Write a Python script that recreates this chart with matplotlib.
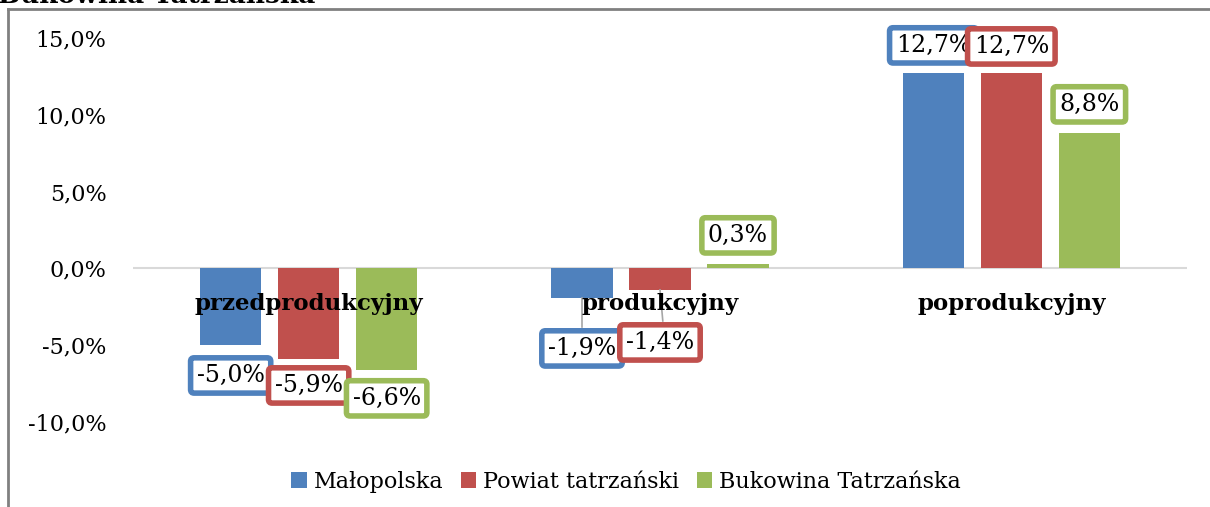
import numpy as np
from matplotlib import pyplot as plt
from matplotlib.patches import Patch
from matplotlib.lines import Line2D
from matplotlib import rcParams

rcParams["font.family"] = "DejaVu Serif"

# data
categories = ["przedprodukcyjny", "produkcyjny", "poprodukcyjny"]
series = ["Małopolska", "Powiat tatrzański", "Bukowina Tatrzańska"]
values = [
    [-5.0, -1.9, 12.7],   # Małopolska
    [-5.9, -1.4, 12.7],   # Powiat tatrzański
    [-6.6, 0.3, 8.8],     # Bukowina Tatrzańska
]
yticks = [-10, -5, 0, 5, 10, 15]

colors = ["#4F81BD", "#C0504D", "#9BBB59"]

# label placement: distance of label centre from bar end (in %), per series / category
label_dy = [
    [-1.97, -3.31, 1.82],
    [-1.72, -3.42, 1.75],
    [-1.86, 1.85, 1.88],
]
leader = [
    [False, True, False],
    [False, True, False],
    [False, False, False],
]


def fmt(v):
    return ("%.1f%%" % v).replace(".", ",")


fig = plt.figure(figsize=(12.1, 5.07), dpi=100)
W, H = 1210, 507
ax = fig.add_axes([133 / W, 1 - 422 / H, (1187 - 133) / W, (422 - 38) / H])

n = len(series)
bar_w = 0.174
step = 0.222
x = np.arange(len(categories))

for s in range(n):
    xs = x + (s - 1) * step
    ax.bar(xs, values[s], width=bar_w, color=colors[s], zorder=2)
    for c in range(len(categories)):
        v = values[s][c]
        ly = v + label_dy[s][c]
        if leader[s][c]:
            ax.plot([xs[c], xs[c] + 0.008 * s], [v, ly + 1.4], color="#A6A6A6",
                    lw=1.2, zorder=3)
        ax.text(xs[c], ly, fmt(v), ha="center", va="center", fontsize=17, zorder=5,
                bbox=dict(boxstyle="round,pad=0.26,rounding_size=0.15", fc="white",
                          ec=colors[s], lw=4))

ax.axhline(0, color="#D9D9D9", lw=1.5, zorder=1)
ax.set_xlim(-0.5, len(categories) - 0.5)
ax.set_ylim(-10, 15)
ax.set_yticks(yticks)
ax.set_yticklabels([fmt(t) for t in yticks], fontsize=16)
ax.tick_params(axis="y", length=0, pad=19)
ax.set_xticks([])
for sp in ax.spines.values():
    sp.set_visible(False)

# category labels just below the zero line
for c, name in enumerate(categories):
    ax.text(c, -2.35, name, ha="center", va="center", fontsize=16.5, fontweight="bold",
            zorder=4)

# legend
handles = [Patch(facecolor=colors[s], edgecolor="none", label=series[s]) for s in range(n)]
fig.legend(handles=handles, loc="center", bbox_to_anchor=(626 / W, 1 - 482 / H), ncol=3,
           frameon=False, fontsize=16, handlelength=0.7, handleheight=0.7,
           handletextpad=0.3, columnspacing=0.8)

# chart frame (left and top edges visible)
fig.add_artist(Line2D([8 / W, 8 / W], [0, 1 - 9 / H], color="#808080", lw=2,
                      transform=fig.transFigure))
fig.add_artist(Line2D([8 / W, 1], [1 - 9 / H, 1 - 9 / H], color="#808080", lw=2,
                      transform=fig.transFigure))

# cut-off heading above the chart
fig.text(-2 / W, 1 - 3 / H, "Bukowina Tatrzańska", fontsize=19, fontweight="bold",
         va="baseline", ha="left")

plt.savefig("out.png", dpi=100)
